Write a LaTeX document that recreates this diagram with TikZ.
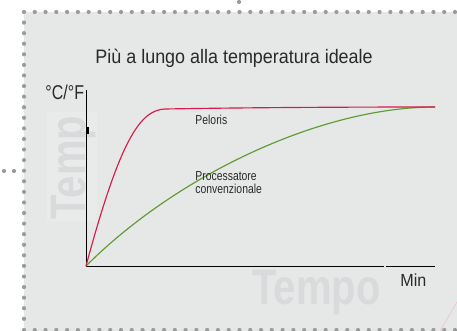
\documentclass[tikz,border=0pt]{standalone}
\usepackage{fontspec}
\setmainfont[FakeStretch=0.8]{Liberation Sans}
\newfontfamily\titlefont[FakeStretch=0.92]{Liberation Sans}
\definecolor{panelgray}{HTML}{E6E7E7}
\definecolor{boxgray}{HTML}{E9EAEA}
\definecolor{markgray}{HTML}{D9DADB}
\definecolor{dotgray}{HTML}{9A9B9D}
\definecolor{textgray}{HTML}{2B2A2A}
\definecolor{pelorisred}{HTML}{D81B4B}
\definecolor{procgreen}{HTML}{5E9B32}
\definecolor{cutpink}{HTML}{EBB9C2}
\begin{document}
\begin{tikzpicture}[x=1pt, y=-1pt, line width=0.9pt,
    curve label/.style={text=textgray, align=left, font=\fontsize{13}{12.5}\selectfont},
    mark text/.style={text=markgray, font=\fontsize{50}{50}\selectfont\bfseries},
    dot/.style={fill=dotgray},
    curve/.style={line width=1.15pt}]
        \tikzstyle{every node}=[inner sep=0, anchor=base west]

          \useasboundingbox (0,0) rectangle (457,331);
          \fill[panelgray] (24,12) rectangle (457,331);
          \fill[boxgray] (47,112) rectangle (97,221);
          \draw[cutpink, line width=0.4pt] (457,302) -- (440,331);

          % watermarks
          \node[mark text] (tempo) at (252,304) {Tempo};
          \node[mark text, rotate=90] (temp) at (85,220) {Temp};

          % dotted frame
          \foreach \i in {0,...,40} {
            \fill[dot] (24+\i*10.775,12) circle (2.1);
            \fill[dot] (24+\i*10.775,330) circle (2.1);
          }
          \foreach \j in {1,...,29}
            \fill[dot] (24,12+\j*10.58) circle (2.1);
          \fill[dot] (239,2) circle (2.1);
          \fill[dot] (4,171) circle (2.1);
          \fill[dot] (14,171) circle (2.1);

          \coordinate (0) at (86,266);
          \coordinate (y) at (86,90);
          \coordinate (x) at (435,266);
          \coordinate (g1) at (384,266);
          \coordinate (g2) at (385.5,266);
          \coordinate (e) at (435,107);

          % axes
          \draw (y) -- (0) -- (g1);
          \draw (g2) -- (x);
          \draw[line width=2.2pt] (87.6,127) -- (87.6,134);

          % curves
          \draw[curve, procgreen] (0) .. controls (176,176) and (320,107) .. (e);
          \draw[curve, pelorisred] (0) .. controls (120,140) and (140,110) .. (165,109)
                .. controls (250,107.5) and (350,107) .. (e);

          \node[text=textgray, font=\titlefont\fontsize{19.5}{20}\selectfont] (title) at (95,64) {Più a lungo alla temperatura ideale};
          \node[text=textgray, font=\fontsize{20}{20}\selectfont] (unit) at (45,100) {°C/°F};
          \node[text=textgray, font=\titlefont\fontsize{17.5}{18}\selectfont] (min) at (400,286) {Min};
          \node[curve label] (pel) at (195,124.3) {Peloris};
          \node[curve label] (proc) at (195,193.3) {Processatore\\convenzionale};

\end{tikzpicture}
\end{document}
